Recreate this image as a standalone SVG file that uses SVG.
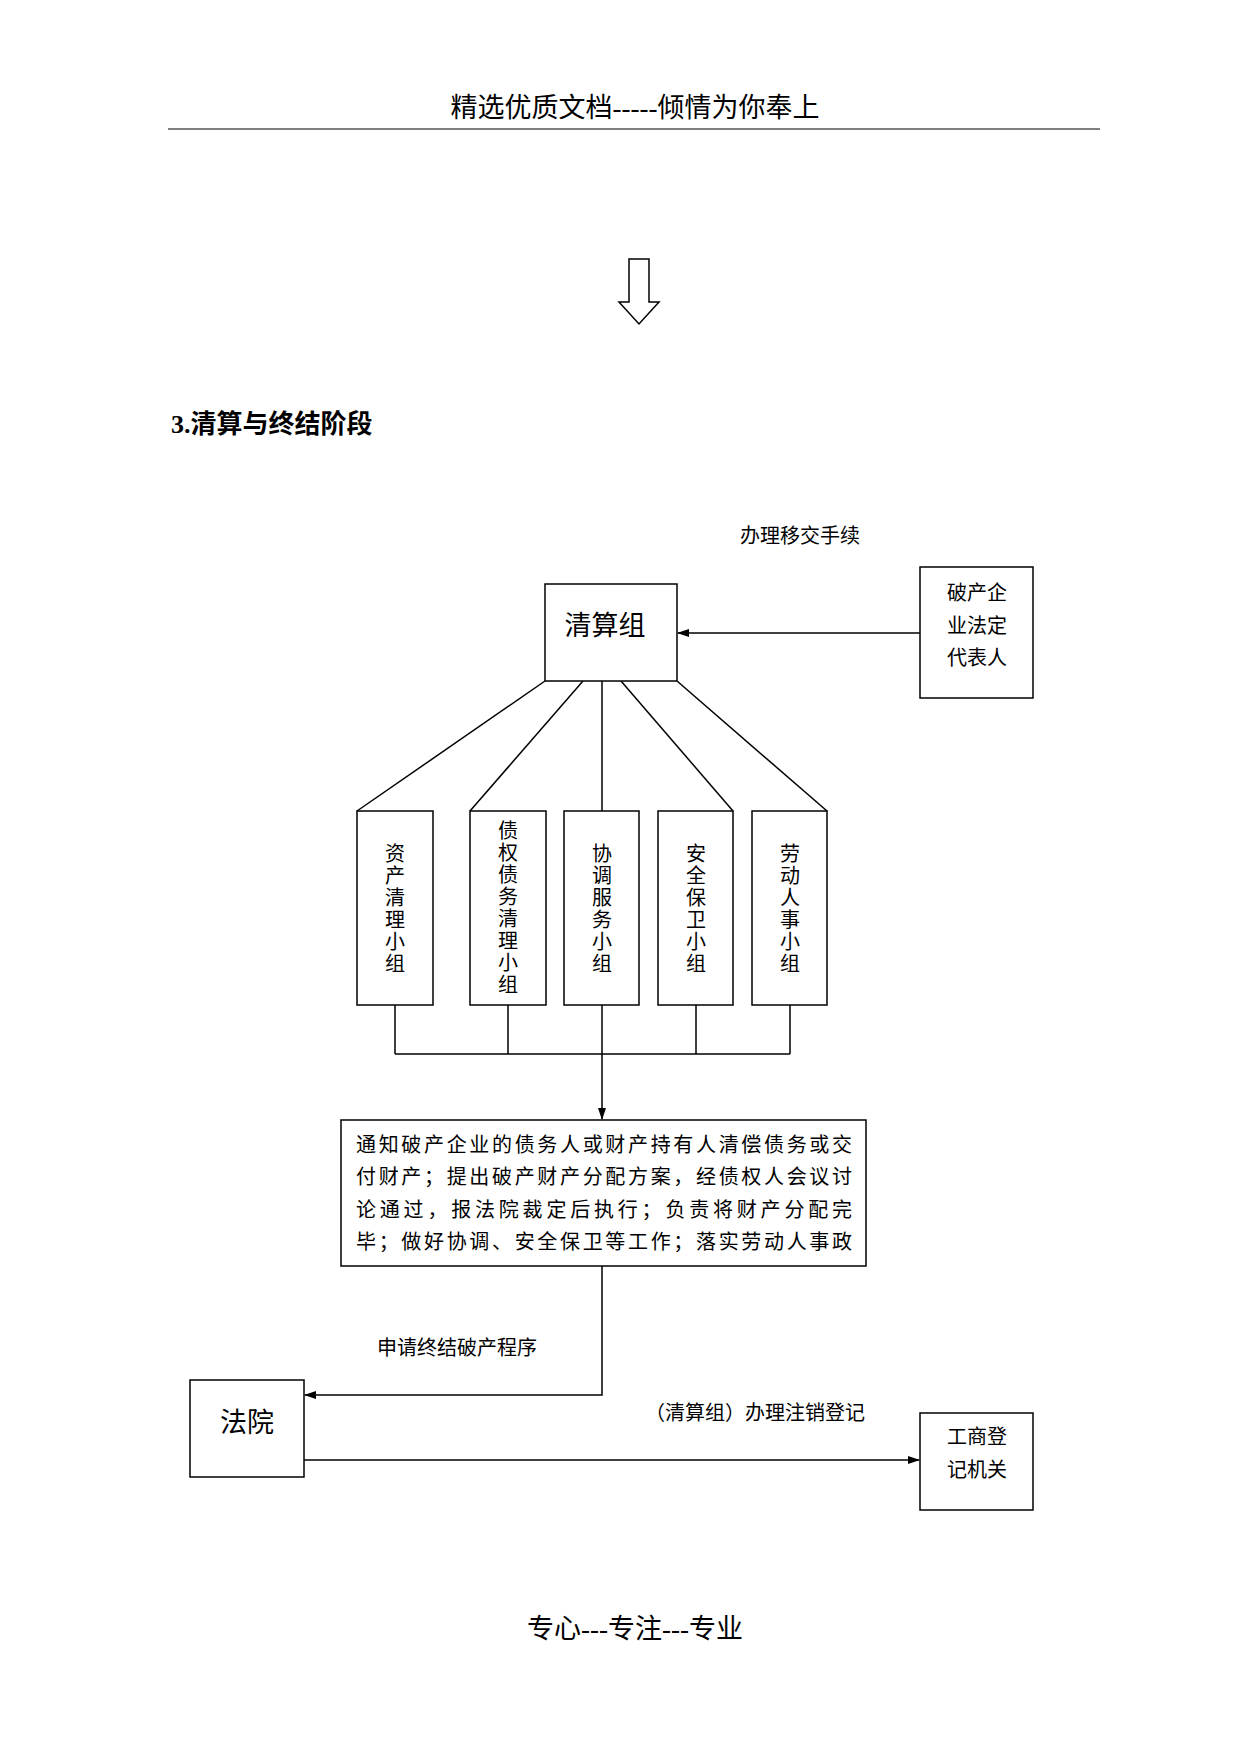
<svg xmlns="http://www.w3.org/2000/svg" width="1240" height="1753" viewBox="0 0 1240 1753">
<style>
text{font-family:"Liberation Serif","Noto Sans CJK SC",serif;fill:#000}
.b{fill:#fff;stroke:#000;stroke-width:1.5}
.l{fill:none;stroke:#000;stroke-width:1.5}
.s{font-size:20px}
.m{font-size:27px}
</style>
<defs><marker id="a" markerWidth="12" markerHeight="8" refX="11" refY="4" orient="auto" markerUnits="userSpaceOnUse"><path d="M0,0 L12,4 L0,8 z" fill="#000"/></marker></defs>
<rect width="1240" height="1753" fill="#fff"/>
<text x="635" y="117" class="m" text-anchor="middle" fill="#333">精选优质文档-----倾情为你奉上</text>
<line x1="168" y1="129" x2="1100" y2="129" stroke="#000" stroke-width="1"/>
<path d="M629,259 H649 V302 H659 L639,324 L619,302 H629 Z" class="l"/>
<text x="171" y="433" font-size="26" font-weight="bold">3.清算与终结阶段</text>
<text x="800" y="543" class="s" text-anchor="middle">办理移交手续</text>
<text x="457" y="1355" class="s" text-anchor="middle">申请终结破产程序</text>
<text x="755" y="1420" class="s" text-anchor="middle">（清算组）办理注销登记</text>
<g id="connectors">
<line x1="920" y1="633" x2="678" y2="633" class="l" marker-end="url(#a)"/>
<line x1="545" y1="681" x2="357" y2="811" class="l"/>
<line x1="583" y1="681" x2="470" y2="811" class="l"/>
<line x1="602" y1="681" x2="602" y2="811" class="l"/>
<line x1="621" y1="681" x2="733" y2="811" class="l"/>
<line x1="677" y1="681" x2="827" y2="811" class="l"/>
<path d="M395,1005 V1054 M508,1005 V1054 M696,1005 V1054 M790,1005 V1054 M395,1054 H790" class="l"/>
<line x1="602" y1="1005" x2="602" y2="1119" class="l" marker-end="url(#a)"/>
<polyline points="602,1266 602,1395 305,1395" class="l" marker-end="url(#a)"/>
<line x1="304" y1="1460" x2="919" y2="1460" class="l" marker-end="url(#a)"/>
</g>
<g id="qsz"><rect x="545" y="584" width="132" height="97" class="b"/><text x="605" y="635" class="m" text-anchor="middle">清算组</text></g>
<g id="fddb"><rect x="920" y="567" width="113" height="131" class="b"/>
<text class="s" text-anchor="middle"><tspan x="977" y="600">破产企</tspan><tspan x="977" y="633">业法定</tspan><tspan x="977" y="665">代表人</tspan></text></g>
<g id="g1"><rect x="357" y="811" width="76" height="194" class="b"/><text class="s" text-anchor="middle"><tspan x="395" y="861">资</tspan><tspan x="395" y="883">产</tspan><tspan x="395" y="905">清</tspan><tspan x="395" y="927">理</tspan><tspan x="395" y="949">小</tspan><tspan x="395" y="971">组</tspan></text></g>
<g id="g2"><rect x="470" y="811" width="76" height="194" class="b"/><text class="s" text-anchor="middle"><tspan x="508" y="838">债</tspan><tspan x="508" y="860">权</tspan><tspan x="508" y="882">债</tspan><tspan x="508" y="904">务</tspan><tspan x="508" y="926">清</tspan><tspan x="508" y="948">理</tspan><tspan x="508" y="970">小</tspan><tspan x="508" y="992">组</tspan></text></g>
<g id="g3"><rect x="564" y="811" width="75" height="194" class="b"/><text class="s" text-anchor="middle"><tspan x="602" y="861">协</tspan><tspan x="602" y="883">调</tspan><tspan x="602" y="905">服</tspan><tspan x="602" y="927">务</tspan><tspan x="602" y="949">小</tspan><tspan x="602" y="971">组</tspan></text></g>
<g id="g4"><rect x="658" y="811" width="75" height="194" class="b"/><text class="s" text-anchor="middle"><tspan x="696" y="861">安</tspan><tspan x="696" y="883">全</tspan><tspan x="696" y="905">保</tspan><tspan x="696" y="927">卫</tspan><tspan x="696" y="949">小</tspan><tspan x="696" y="971">组</tspan></text></g>
<g id="g5"><rect x="752" y="811" width="75" height="194" class="b"/><text class="s" text-anchor="middle"><tspan x="790" y="861">劳</tspan><tspan x="790" y="883">动</tspan><tspan x="790" y="905">人</tspan><tspan x="790" y="927">事</tspan><tspan x="790" y="949">小</tspan><tspan x="790" y="971">组</tspan></text></g>
<g id="tz"><rect x="341" y="1120" width="525" height="146" class="b"/>
<text class="s"><tspan x="356" y="1152" textLength="496" lengthAdjust="spacing">通知破产企业的债务人或财产持有人清偿债务或交</tspan><tspan x="356" y="1184" textLength="496" lengthAdjust="spacing">付财产；提出破产财产分配方案，经债权人会议讨</tspan><tspan x="356" y="1217" textLength="496" lengthAdjust="spacing">论通过，报法院裁定后执行；负责将财产分配完</tspan><tspan x="356" y="1249" textLength="496" lengthAdjust="spacing">毕；做好协调、安全保卫等工作；落实劳动人事政</tspan></text></g>
<g id="fy"><rect x="190" y="1380" width="114" height="97" class="b"/><text x="247" y="1432" class="m" text-anchor="middle">法院</text></g>
<g id="gs"><rect x="920" y="1413" width="113" height="97" class="b"/><text class="s" text-anchor="middle"><tspan x="977" y="1444">工商登</tspan><tspan x="977" y="1477">记机关</tspan></text></g>
<text x="635" y="1638" class="m" text-anchor="middle" fill="#333">专心---专注---专业</text>
</svg>
